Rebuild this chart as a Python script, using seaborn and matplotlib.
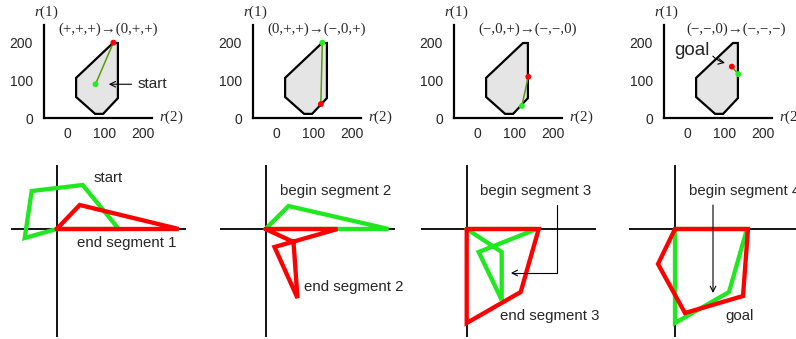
import matplotlib
matplotlib.use("Agg")
import matplotlib.pyplot as plt
import seaborn as sns

sns.set_style("white")
plt.rcParams["font.family"] = ["Liberation Sans", "DejaVu Sans"]
plt.rcParams["mathtext.fontset"] = "custom"
plt.rcParams["mathtext.it"] = "Liberation Serif:italic"
plt.rcParams["mathtext.rm"] = "Liberation Serif"

# ---- top row: feasible region in the (r(2), r(1)) plane ----
region_r2 = [121, 134, 134, 95, 74, 24, 24]
region_r1 = [200, 200, 53, 11, 11, 56, 107]
ticks = [0, 100, 200]
transitions = ["(+,+,+)→(0,+,+)", "(0,+,+)→(−,0,+)",
               "(−,0,+)→(−,−,0)", "(−,−,0)→(−,−,−)"]
start_r2 = [75, 122, 118, 135]
start_r1 = [90, 201, 32, 117]
end_r2 = [122, 118, 135, 118]
end_r1 = [201, 37, 110, 137]

# ---- bottom row: linkage shape at begin (green) and end (red) of each segment ----
green_x = [[0, 62, 26, -25, -32, 0], [0, 23, 123, 0],
           [0, 35, 35, 12, 70, 0], [0, 72, 54, 0, 0]]
green_y = [[0, 0, 44, 38, -9, 0], [0, 23, 0, 0],
           [0, -23, -71, -23, 0, 0], [0, 0, -63, -94, 0]]
red_x = [[0, 122, 23, 0], [0, 28, 32, 9, 72, 0],
         [0, 72, 54, 0, 0], [0, 73, 68, 10, -17, 0]]
red_y = [[0, 0, 24, 0], [0, -13, -69, -18, 0, 0],
         [0, 0, -63, -94, 0], [0, 0, -67, -84, -35, 0]]

W, H = 796, 339
fig = plt.figure(figsize=(W / 100, H / 100), dpi=100)


def px_axes(x0, y0, x1, y1):
    return fig.add_axes([x0 / W, 1 - y1 / H, (x1 - x0) / W, (y1 - y0) / H])


GREEN = "#1fe81f"
RED = "#ff0000"
serif = ["Liberation Serif", "DejaVu Serif"]

# layout of the top panels (pixel left edge of each plot)
top_left = [44, 253, 454, 664]
title_x = [108, 108, 132, 129]

for i, L in enumerate(top_left):
    ax = px_axes(L, 25, L + 108, 118)
    ax.set_xlim(-60.5, 223.7)
    ax.set_ylim(0, 248)
    ax.fill(region_r2, region_r1, facecolor="#e5e5e5", edgecolor="black",
            lw=1.6, joinstyle="miter", zorder=2)
    ax.plot([start_r2[i], end_r2[i]], [start_r1[i], end_r1[i]],
            color="#5a9a08", lw=1.1, zorder=3)
    sns.scatterplot(x=[start_r2[i]], y=[start_r1[i]], color="#22ee22", s=18,
                    edgecolor="none", ax=ax, zorder=4)
    sns.scatterplot(x=[end_r2[i]], y=[end_r1[i]], color=RED, s=18,
                    edgecolor="none", ax=ax, zorder=4)
    ax.set_xticks(ticks)
    ax.set_yticks(ticks)
    ax.tick_params(length=0, labelsize=10)
    ax.tick_params(axis="x", pad=6.5)
    ax.tick_params(axis="y", pad=8)
    for s in ["top", "right"]:
        ax.spines[s].set_visible(False)
    for s in ["left", "bottom"]:
        ax.spines[s].set_linewidth(1.6)
        ax.spines[s].set_color("black")
    ax.set_xlabel("")
    ax.set_ylabel("")
    ax.text(title_x[i], 237, transitions[i], ha="center", va="center",
            fontsize=10.8, family=serif)
    ax.text(-55, 283, "$r$(1)", ha="center", va="center", fontsize=10.8,
            family=serif)
    ax.text(274, 3, "$r$(2)", ha="center", va="center", fontsize=10.8,
            family=serif)
    if i == 0:
        ax.text(187, 90, "start", ha="left", va="center", fontsize=11)
        ax.annotate("", xy=(110, 90), xytext=(170, 90),
                    arrowprops=dict(arrowstyle="->", lw=0.8, color="black",
                                    shrinkA=0, shrinkB=0))
    if i == 3:
        ax.text(13, 181, "goal", ha="center", va="center", fontsize=13.5)
        ax.annotate("", xy=(100, 147), xytext=(68, 165),
                    arrowprops=dict(arrowstyle="->", lw=0.8, color="black",
                                    shrinkA=0, shrinkB=0,
                                    connectionstyle="arc3,rad=0.15"))

# bottom panels: origin of each crosshair in pixels
origin_x = [56.7, 265.5, 466.7, 675]
origin_y = 229

for i, ox in enumerate(origin_x):
    ax = px_axes(ox - 46, 165, ox + 129, 337)
    ax.set_xlim(-46, 129)
    ax.set_ylim(origin_y - 337, origin_y - 165)
    ax.axis("off")
    ax.axhline(0, color="black", lw=1.3, zorder=1)
    ax.axvline(0, color="black", lw=1.3, zorder=1)
    sns.lineplot(x=green_x[i], y=green_y[i], sort=False, estimator=None,
                 color=GREEN, lw=3.1, solid_joinstyle="miter", ax=ax, zorder=2)
    sns.lineplot(x=red_x[i], y=red_y[i], sort=False, estimator=None,
                 color=RED, lw=3.1, solid_joinstyle="miter", ax=ax, zorder=3)

    fs = 10.8
    if i == 0:
        ax.text(51, 51, "start", ha="center", va="center", fontsize=fs)
        ax.text(70, -14, "end segment 1", ha="center", va="center", fontsize=fs)
    elif i == 1:
        ax.text(70, 38, "begin segment 2", ha="center", va="center", fontsize=fs)
        ax.text(88, -58, "end segment 2", ha="center", va="center", fontsize=fs)
    elif i == 2:
        ax.text(69, 38, "begin segment 3", ha="center", va="center", fontsize=fs)
        ax.text(83, -87, "end segment 3", ha="center", va="center", fontsize=fs)
        ax.annotate("", xy=(44, -44), xytext=(90, 24),
                    arrowprops=dict(arrowstyle="->", lw=0.8, color="black",
                                    shrinkA=0, shrinkB=0,
                                    connectionstyle="angle,angleA=90,angleB=0,rad=0"))
    else:
        ax.text(14, 38, "begin segment 4", ha="left", va="center", fontsize=fs)
        ax.text(65, -87, "goal", ha="center", va="center", fontsize=fs)
        ax.annotate("", xy=(38, -64), xytext=(38, 24),
                    arrowprops=dict(arrowstyle="->", lw=0.8, color="black",
                                    shrinkA=0, shrinkB=0))

fig.savefig("out.png", dpi=100)
